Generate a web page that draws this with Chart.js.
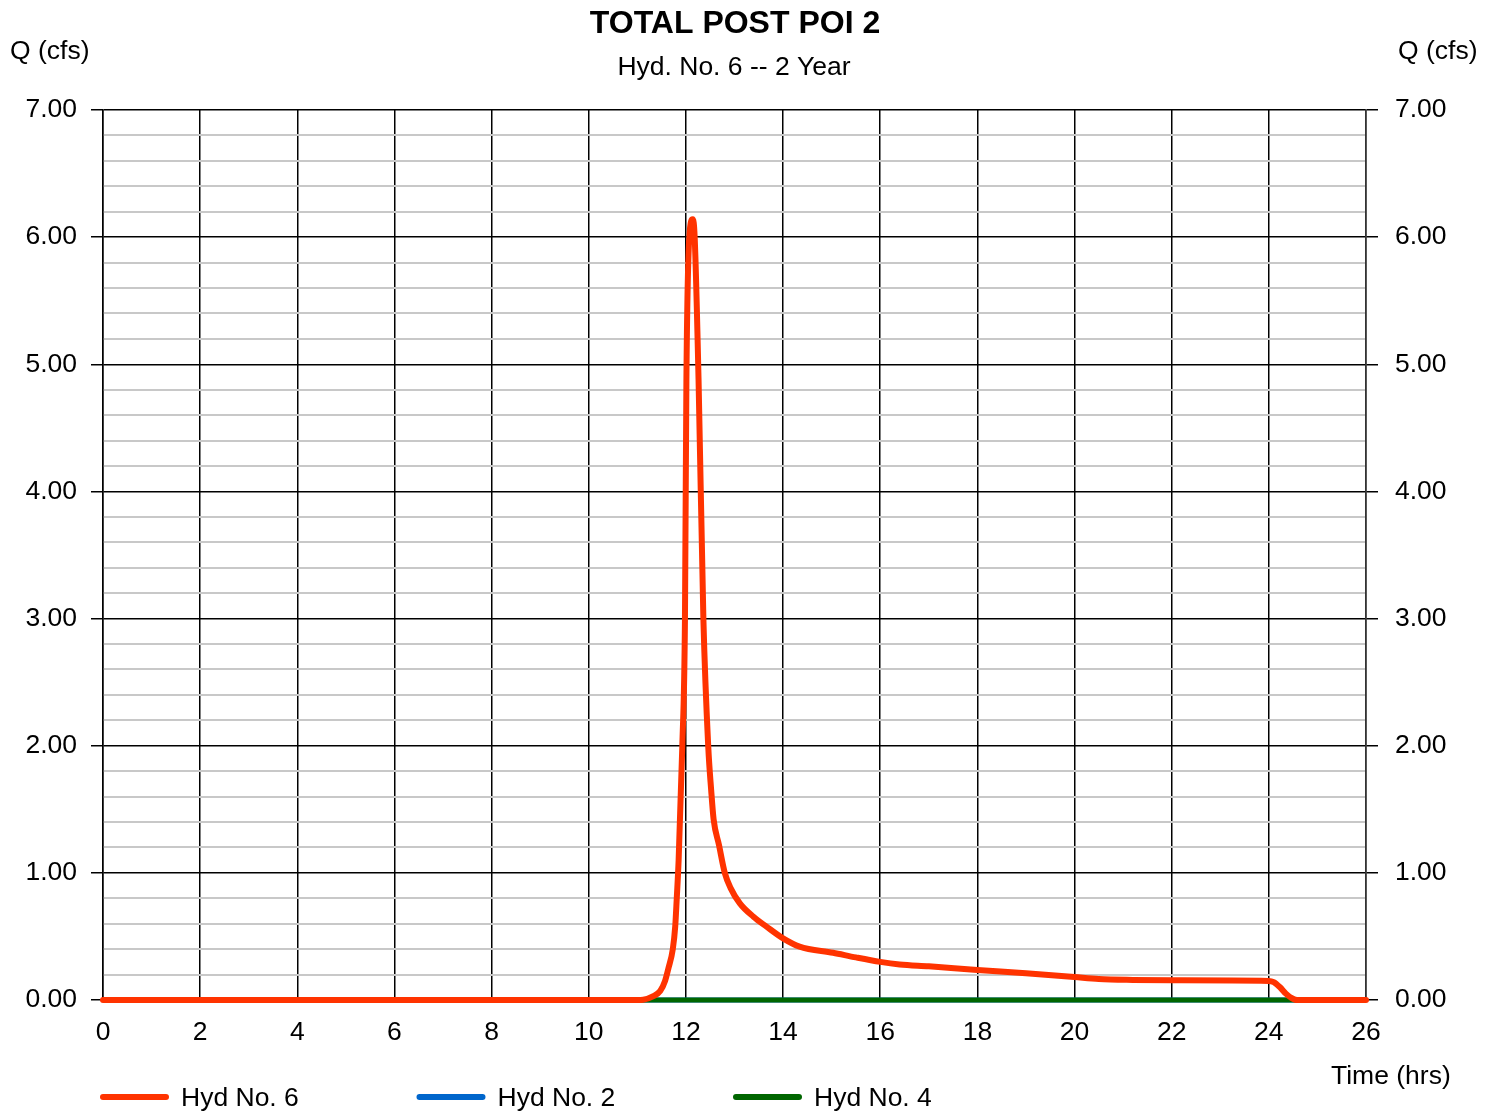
<!DOCTYPE html>
<html>
<head>
<meta charset="utf-8">
<script src="https://cdn.jsdelivr.net/npm/chart.js@4/dist/chart.umd.min.js"></script>
<style>
  html, body { margin: 0; padding: 0; background: #fff; }
  #wrap { width: 1496px; height: 1114px; }
</style>
</head>
<body>
<div id="wrap"><canvas id="myChart" width="1496" height="1114"></canvas></div>
<script>
// Hyd No. 6 hydrograph (hours, cfs)
var hyd6Time = [0, 11.0, 11.12, 11.33, 11.47, 11.57, 11.64, 11.73, 11.78, 11.81, 11.85, 11.925, 11.98, 12.01,
    12.07, 12.14, 12.18, 12.26, 12.36, 12.46, 12.52, 12.57, 12.68, 12.80, 12.92, 13.11, 13.39, 13.66, 14.0, 14.34,
    15.03, 15.5, 16.0, 16.4, 17.0, 18.0, 19.0, 20.0, 20.5, 21.2, 22.0, 24.0, 24.1, 24.23, 24.35, 24.45, 24.58, 26.0];
var hyd6Flow = [0, 0, 0.002, 0.03, 0.07, 0.15, 0.25, 0.40, 0.58, 0.79, 1.10, 1.99, 2.99, 4.88,
    6.0, 6.14, 6.0, 4.88, 2.99, 1.99, 1.65, 1.42, 1.22, 1.0, 0.88, 0.76, 0.655, 0.577, 0.485, 0.42,
    0.372, 0.335, 0.30, 0.28, 0.265, 0.236, 0.21, 0.18, 0.165, 0.158, 0.155, 0.15, 0.14, 0.10, 0.05, 0.02, 0, 0];

// Hyd No. 2 and Hyd No. 4 sit on zero the whole time
var baseTime = [0, 26];
var hyd2Flow = [0, 0];
var hyd4Flow = [0, 0];

var seriesNames = ['Hyd No. 6', 'Hyd No. 2', 'Hyd No. 4'];
var seriesColors = ['rgb(255, 51, 0)', 'rgb(0, 102, 204)', 'rgb(0, 102, 0)'];

var chartTitle = 'TOTAL POST POI 2';
var chartSubtitle = 'Hyd. No. 6 -- 2 Year';
var yUnit = 'Q (cfs)';
var xUnit = 'Time (hrs)';

var FONT = '"Liberation Sans", Arial, sans-serif';

function toPoints(xs, ys) {
    var pts = [];
    for (let i = 0; i < xs.length; i++) {
        pts.push({ x: xs[i], y: ys[i] });
    }
    return pts;
}

function isMajor(v) {
    return Math.abs(v - Math.round(v)) < 1e-6;
}

/* titles, unit labels and legend drawn straight on the canvas */
const extrasPlugin = {
    id: 'extras',
    afterDraw(chart) {
        const ctx = chart.ctx;
        ctx.save();
        ctx.fillStyle = '#000';
        ctx.textBaseline = 'middle';

        ctx.font = 'bold 32px ' + FONT;
        ctx.textAlign = 'center';
        ctx.fillText(chartTitle, 735, 24);

        ctx.font = '26.5px ' + FONT;
        ctx.fillText(chartSubtitle, 734, 68);

        ctx.textAlign = 'left';
        ctx.fillText(yUnit, 10, 52);
        ctx.fillText(yUnit, 1398, 52);
        ctx.fillText(xUnit, 1331, 1077);

        // legend
        const ds = chart.data.datasets;
        for (let i = 0; i < ds.length; i++) {
            const x0 = 103 + i * 316.5;
            ctx.strokeStyle = ds[i].borderColor;
            ctx.lineWidth = 6;
            ctx.lineCap = 'round';
            ctx.beginPath();
            ctx.moveTo(x0, 1097);
            ctx.lineTo(x0 + 63, 1097);
            ctx.stroke();
            ctx.fillText(ds[i].label, x0 + 78, 1099);
        }
        ctx.restore();
    }
};

const yGrid = {
    color: (c) => isMajor(c.tick.value) ? '#000' : '#c8c8c8',
    lineWidth: (c) => isMajor(c.tick.value) ? 1.5 : 2,
    tickColor: (c) => isMajor(c.tick.value) ? '#000' : 'rgba(0,0,0,0)',
    tickLength: 12,
    tickWidth: 1.5
};

const yTicks = {
    stepSize: 0.2,
    autoSkip: false,
    color: '#000',
    font: { family: FONT, size: 26.5 },
    callback: (v) => isMajor(v) ? v.toFixed(2) : ''
};

const config = {
    type: 'line',
    data: {
        datasets: [{
            label: seriesNames[0],
            data: toPoints(hyd6Time, hyd6Flow),
            borderColor: seriesColors[0],
            backgroundColor: seriesColors[0],
            borderWidth: 6,
            borderCapStyle: 'round',
            borderJoinStyle: 'round',
            cubicInterpolationMode: 'monotone',
            pointRadius: 0,
            clip: false,
            order: 0
        }, {
            label: seriesNames[1],
            data: toPoints(baseTime, hyd2Flow),
            borderColor: seriesColors[1],
            backgroundColor: seriesColors[1],
            borderWidth: 5,
            pointRadius: 0,
            clip: false,
            order: 2
        }, {
            label: seriesNames[2],
            data: toPoints(baseTime, hyd4Flow),
            borderColor: seriesColors[2],
            backgroundColor: seriesColors[2],
            borderWidth: 5,
            pointRadius: 0,
            clip: false,
            order: 1
        }]
    },
    options: {
        responsive: false,
        animation: false,
        layout: { padding: { top: 110, left: 0, right: 0, bottom: 0 } },
        plugins: {
            legend: { display: false },
            title: { display: false },
            tooltip: { enabled: false }
        },
        scales: {
            x: {
                type: 'linear',
                min: 0,
                max: 26,
                afterFit: (s) => { s.height = 114; },
                ticks: {
                    stepSize: 2,
                    autoSkip: false,
                    maxRotation: 0,
                    padding: 17,
                    color: '#000',
                    font: { family: FONT, size: 26.5 }
                },
                grid: { color: '#000', lineWidth: 1.5, drawTicks: false },
                border: { color: '#000', width: 1.5 }
            },
            y: {
                position: 'left',
                min: 0,
                max: 7,
                afterFit: (s) => { s.width = 103; },
                ticks: Object.assign({ padding: 14 }, yTicks),
                grid: yGrid,
                border: { color: '#000', width: 1.5 }
            },
            y2: {
                position: 'right',
                min: 0,
                max: 7,
                afterFit: (s) => { s.width = 130; },
                ticks: Object.assign({ padding: 17 }, yTicks),
                grid: Object.assign({}, yGrid, { drawOnChartArea: false }),
                border: { color: '#333', width: 1.5 }
            }
        }
    },
    plugins: [extrasPlugin]
};

const myChart = new Chart(document.getElementById('myChart'), config);
</script>
</body>
</html>
